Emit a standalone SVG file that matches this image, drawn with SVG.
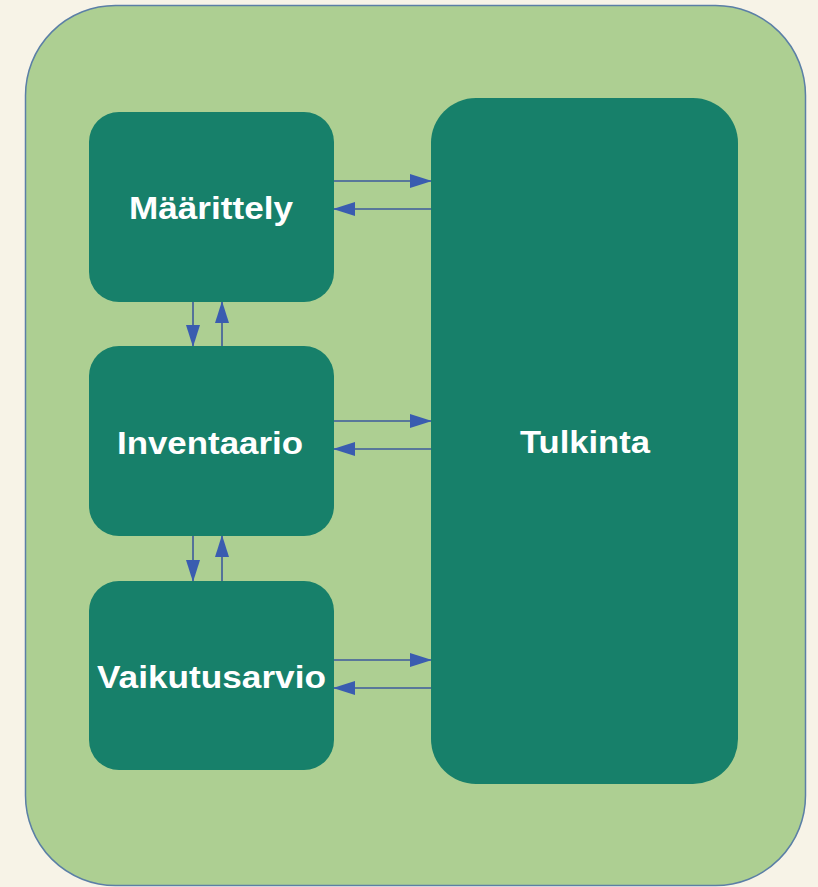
<svg xmlns="http://www.w3.org/2000/svg" width="818" height="887" viewBox="0 0 818 887">
<defs>
<style>
.node{fill:#17806a;}
.lbl{font-family:"Liberation Sans",Arial,sans-serif;font-weight:bold;font-size:31px;fill:#ffffff;text-anchor:middle;}
.con{stroke:#3e5a9c;stroke-width:1.6;fill:none;marker-end:url(#ah);}
</style>
<marker id="ah" markerWidth="22" markerHeight="14" refX="21" refY="7" orient="auto" markerUnits="userSpaceOnUse">
<path d="M0,0 L22,7 L0,14 Z" fill="#3a5cb0"/>
</marker>
</defs>
<rect width="818" height="887" fill="#f7f3e7"/>
<g id="container">
<rect x="25.5" y="5.5" width="780" height="880" rx="90" ry="90" fill="#adcf92" stroke="#5b7fa6" stroke-width="1.5"/>
</g>
<g id="connectors">
<line class="con" x1="334" y1="181" x2="431" y2="181"/>
<line class="con" x1="431" y1="209" x2="334" y2="209"/>
<line class="con" x1="334" y1="421" x2="431" y2="421"/>
<line class="con" x1="431" y1="449" x2="334" y2="449"/>
<line class="con" x1="334" y1="660" x2="431" y2="660"/>
<line class="con" x1="431" y1="688" x2="334" y2="688"/>
<line class="con" x1="193" y1="302" x2="193" y2="346"/>
<line class="con" x1="222" y1="346" x2="222" y2="302"/>
<line class="con" x1="193" y1="536" x2="193" y2="581"/>
<line class="con" x1="222" y1="581" x2="222" y2="536"/>
</g>
<g id="maarittely">
<rect class="node" x="89" y="112" width="245" height="190" rx="30"/>
<text class="lbl" x="211" y="219" textLength="164" lengthAdjust="spacingAndGlyphs">Määrittely</text>
</g>
<g id="inventaario">
<rect class="node" x="89" y="346" width="245" height="190" rx="30"/>
<text class="lbl" x="210" y="454" textLength="186" lengthAdjust="spacingAndGlyphs">Inventaario</text>
</g>
<g id="vaikutusarvio">
<rect class="node" x="89" y="581" width="245" height="189" rx="30"/>
<text class="lbl" x="211.5" y="688" textLength="229" lengthAdjust="spacingAndGlyphs">Vaikutusarvio</text>
</g>
<g id="tulkinta">
<rect class="node" x="431" y="98" width="307" height="686" rx="45"/>
<text class="lbl" x="585" y="453" textLength="130" lengthAdjust="spacingAndGlyphs">Tulkinta</text>
</g>
</svg>
